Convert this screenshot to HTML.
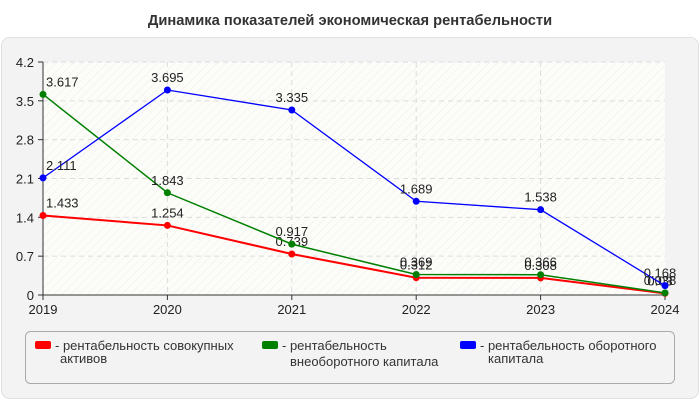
<!DOCTYPE html>
<html><head><meta charset="utf-8"><style>
body{margin:0;width:700px;height:400px;background:#fff;font-family:"Liberation Sans",sans-serif;overflow:hidden}
</style></head><body>
<svg width="700" height="400">
<defs><pattern id="hatch" width="6" height="6" patternUnits="userSpaceOnUse" patternTransform="rotate(45)"><rect width="6" height="6" fill="#fcfcf8"/><line x1="0" y1="0" x2="0" y2="6" stroke="#ececec" stroke-width="1"/></pattern></defs>
<rect x="1.5" y="37.5" width="697" height="361" rx="8" fill="#f3f3f3" stroke="#e0e0e0"/>
<text x="350" y="25" text-anchor="middle" font-size="14.7" font-weight="bold" fill="#333">Динамика показателей экономическая рентабельности</text>
<rect x="43" y="62" width="622" height="233" fill="url(#hatch)"/>
<g id="grid"></g><g id="axes"></g><g id="series"></g>
<rect x="25.5" y="331.5" width="649" height="52" rx="5" fill="#f3f3f3" stroke="#aaa"/>
<g><rect x="35" y="341" width="16" height="8" rx="2" fill="red"/><text x="55" y="350" font-size="13" fill="#333">- рентабельность совокупных</text><text x="60" y="363" font-size="13" fill="#333">активов</text></g>
<g><rect x="262" y="341" width="16" height="8" rx="2" fill="green"/><text x="282" y="350" font-size="13" fill="#333">- рентабельность</text><text x="290" y="366" font-size="13" fill="#333">внеоборотного капитала</text></g>
<g><rect x="460" y="341" width="16" height="8" rx="2" fill="blue"/><text x="480" y="350" font-size="13" fill="#333">- рентабельность оборотного</text><text x="488" y="363" font-size="13" fill="#333">капитала</text></g>
</svg>
<script>
const years=["2019","2020","2021","2022","2023","2024"];
const yTicks=[0,0.7,1.4,2.1,2.8,3.5,4.2];
const assets=[1.433,1.254,0.739,0.312,0.308,0.03];
const nonCurrent=[3.617,1.843,0.917,0.369,0.366,0.038];
const current=[2.111,3.695,3.335,1.689,1.538,0.168];
const NS="http://www.w3.org/2000/svg";
const X=i=>43+i*(622/5), Y=v=>295-v/4.2*233;
function mk(t,a,p){const e=document.createElementNS(NS,t);for(const k in a)e.setAttribute(k,a[k]);p.appendChild(e);return e;}
const g=document.getElementById('grid'),ax=document.getElementById('axes'),s=document.getElementById('series');
yTicks.forEach(v=>{if(v>0){const l=mk('line',{x1:43,x2:665,y1:Y(v),y2:Y(v),stroke:'#ddd','stroke-dasharray':'5,4'},g);

}
mk('line',{x1:38,x2:43,y1:Y(v),y2:Y(v),stroke:'#333'},ax);
const t=mk('text',{x:34,y:Y(v)+5,'text-anchor':'end','font-size':13,fill:'#222'},ax);t.textContent=v;

});
years.forEach((y,i)=>{if(i>0&&i<5){const l=mk('line',{x1:X(i),x2:X(i),y1:62,y2:295,stroke:'#ddd','stroke-dasharray':'5,4'},g);

}
mk('line',{x1:X(i),x2:X(i),y1:295,y2:300,stroke:'#333'},ax);
const t=mk('text',{x:X(i),y:314,'text-anchor':'middle','font-size':13,fill:'#222'},ax);t.textContent=y;

});
mk('line',{x1:43,x2:43,y1:62,y2:295,stroke:'#333'},ax);mk('line',{x1:43,x2:665,y1:295,y2:295,stroke:'#333'},ax);
[[assets,'red',2],[nonCurrent,'green',1.5],[current,'blue',1.3]].forEach(([d,c,w])=>{
const p=mk('polyline',{points:d.map((v,i)=>X(i)+','+Y(v)).join(' '),fill:'none',stroke:c,'stroke-width':w},s);


d.forEach((v,i)=>{const m=mk('circle',{cx:X(i),cy:Y(v),r:3.5,fill:c},s);


const t=mk('text',{x:i==0?X(i)+3:(i==5?X(i)-5:X(i)),y:Y(v)-8,'text-anchor':i==0?'start':'middle','font-size':13,fill:'#222'},s);t.textContent=v;

});});
</script>
</body></html>
